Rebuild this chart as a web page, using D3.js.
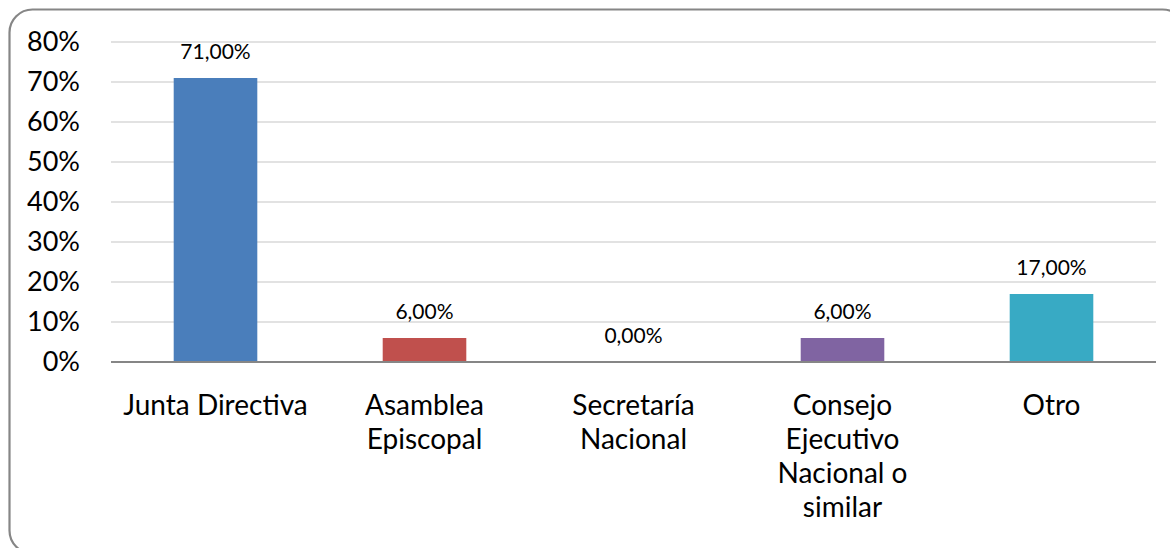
<!DOCTYPE html>
<html>
<head>
<meta charset="utf-8">
<script src="https://cdn.jsdelivr.net/npm/d3@7"></script>
<style>
  html, body { margin: 0; padding: 0; background: #fff; }
  svg text { font-family: Lato, "Open Sans", sans-serif; fill: #000; }
</style>
</head>
<body>
<div id="chart"></div>
<script>
var categories = ['Junta Directiva', 'Asamblea\nEpiscopal', 'Secretaría\nNacional', 'Consejo\nEjecutivo\nNacional o\nsimilar', 'Otro'];
var values = [0.71, 0.06, 0.00, 0.06, 0.17];
var barColors = ['#4a7ebb', '#c0504d', '#9bbb59', '#8064a2', '#38aac4'];
var yTicks = [0, 0.1, 0.2, 0.3, 0.4, 0.5, 0.6, 0.7, 0.8];

var W = 1170, H = 548;
var plotLeft = 111, plotRight = 1156, plotTop = 42, plotBottom = 362;

var svg = d3.select('#chart').append('svg')
  .attr('width', W)
  .attr('height', H);

// outer rounded frame (runs off the right/bottom edge)
svg.append('rect')
  .attr('x', 9.5).attr('y', 9.5)
  .attr('width', 1176).attr('height', 544)
  .attr('rx', 23).attr('ry', 23)
  .style('fill', '#fff')
  .style('stroke', '#868686')
  .style('stroke-width', 2.2);

var x = d3.scaleBand().domain(categories).range([plotLeft, plotRight])
  .paddingInner(0.6).paddingOuter(0.3);
var y = d3.scaleLinear().domain([0, 0.8]).range([plotBottom, plotTop]);

// gridlines
svg.append('g')
  .selectAll('line')
  .data(yTicks.filter(function (d) { return d > 0; }))
  .enter()
  .append('line')
  .attr('x1', plotLeft).attr('x2', plotRight)
  .attr('y1', function (d) { return y(d); })
  .attr('y2', function (d) { return y(d); })
  .style('stroke', '#d9d9d9')
  .style('stroke-width', 1.5);

// y axis labels
var yAxis = svg.append('g')
  .attr('transform', 'translate(' + plotLeft + ',0)')
  .call(d3.axisLeft(y).tickValues(yTicks).tickSize(0).tickPadding(31)
    .tickFormat(function (d) { return Math.round(d * 100) + '%'; }));
yAxis.select('.domain').remove();
yAxis.selectAll('text')
  .style('font-size', '27px')
  .style('font-family', 'Lato, sans-serif')
  .attr('fill', '#000');

// bars
svg.append('g')
  .selectAll('rect')
  .data(values)
  .enter()
  .append('rect')
  .attr('x', function (d, i) { return x(categories[i]); })
  .attr('y', function (d) { return y(d); })
  .attr('width', x.bandwidth())
  .attr('height', function (d) { return y(0) - y(d); })
  .style('fill', function (d, i) { return barColors[i]; });

// x axis line
svg.append('line')
  .attr('x1', plotLeft).attr('x2', plotRight)
  .attr('y1', y(0)).attr('y2', y(0))
  .style('stroke', '#868686')
  .style('stroke-width', 1.8);

// data labels
svg.append('g')
  .selectAll('text')
  .data(values)
  .enter()
  .append('text')
  .attr('x', function (d, i) { return x(categories[i]) + x.bandwidth() / 2; })
  .attr('y', function (d) { return y(d) - 19; })
  .attr('text-anchor', 'middle')
  .style('font-size', '21px')
  .text(function (d) { return (d * 100).toFixed(2).replace('.', ',') + '%'; });

// category labels
var cat = svg.append('g')
  .selectAll('text')
  .data(categories)
  .enter()
  .append('text')
  .attr('text-anchor', 'middle')
  .attr('x', function (d) { return x(d) + x.bandwidth() / 2; })
  .attr('y', 415)
  .style('font-size', '28px');

cat.selectAll('tspan')
  .data(function (d) { return d.split('\n'); })
  .enter()
  .append('tspan')
  .attr('x', function () { return this.parentNode.getAttribute('x'); })
  .attr('dy', function (d, i) { return i === 0 ? 0 : 34; })
  .text(function (d) { return d; });
</script>
</body>
</html>
